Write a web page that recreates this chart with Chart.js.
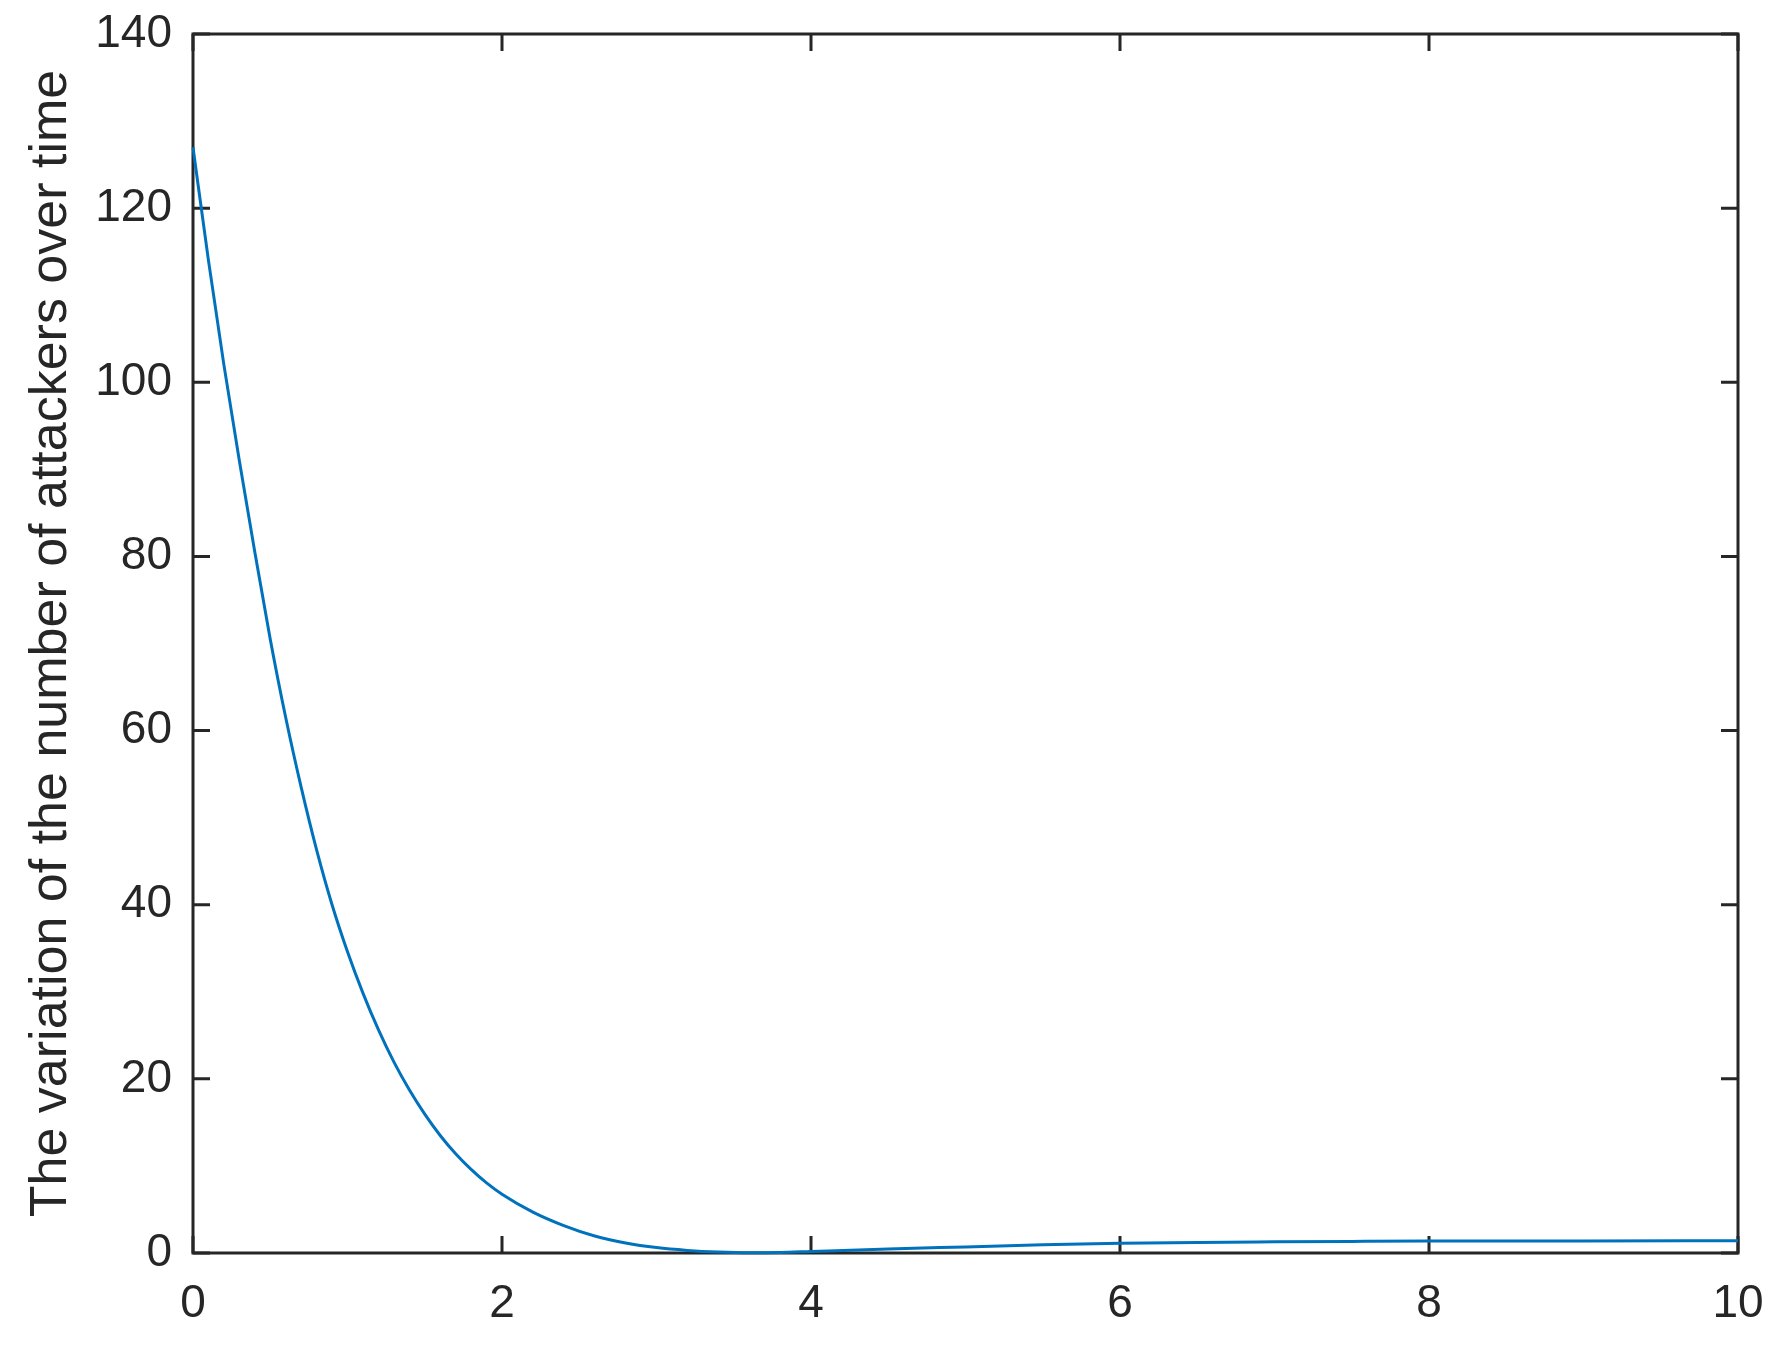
<!DOCTYPE html>
<html>
<head>
<meta charset="utf-8">
<title>Attackers over time</title>
<script src="https://cdn.jsdelivr.net/npm/chart.js@4/dist/chart.umd.min.js"></script>
<style>
  body { margin: 0; background: #ffffff; }
  #wrap { width: 1781px; height: 1348px; }
</style>
</head>
<body>
<div id="wrap"><canvas id="attackChart" width="1781" height="1348"></canvas></div>
<script>
// time values (x)
var times = [0, 0.1, 0.2, 0.3, 0.4, 0.5, 0.6, 0.7, 0.8, 0.9, 1.0, 1.1, 1.2, 1.3, 1.4, 1.5,
  1.6, 1.7, 1.8, 1.9, 2.0, 2.2, 2.4, 2.6, 2.8, 3.0, 3.2, 3.4, 3.6, 3.8, 4.0, 4.5, 5.0, 5.5, 6.0,
  6.5, 7.0, 7.5, 8.0, 9.0, 10];
// number of attackers at each time
var attackers = [127, 114, 102, 91, 80.5, 70.5, 61.5, 53.5, 46.3, 40, 34.6, 29.85, 25.65, 21.95, 18.75, 15.95,
  13.5, 11.4, 9.6, 8.05, 6.75, 4.7, 3.15, 1.95, 1.15, 0.62, 0.3, 0.11, 0.03, 0.07, 0.18, 0.45, 0.7, 0.95, 1.12,
  1.22, 1.28, 1.33, 1.37, 1.39, 1.4];
var xTicks = [0, 2, 4, 6, 8, 10];
var yTicks = [0, 20, 40, 60, 80, 100, 120, 140];

var axisColor = '#262626';
var fontFamily = '"Liberation Sans", Arial, Helvetica, sans-serif';

var points = times.map(function (t, i) {
  return { x: t, y: attackers[i] };
});

// MATLAB-like box with inward ticks on all four sides
var boxPlugin = {
  id: 'boxPlugin',
  beforeDatasetsDraw: function (chart) {
    var ctx = chart.ctx;
    var a = chart.chartArea;
    var xs = chart.scales.x;
    var ys = chart.scales.y;
    var tl = 17;
    ctx.save();
    ctx.strokeStyle = axisColor;
    ctx.lineWidth = 3;
    ctx.beginPath();
    xTicks.forEach(function (v) {
      var px = xs.getPixelForValue(v);
      ctx.moveTo(px, a.bottom);
      ctx.lineTo(px, a.bottom - tl);
      ctx.moveTo(px, a.top);
      ctx.lineTo(px, a.top + tl);
    });
    yTicks.forEach(function (v) {
      var py = ys.getPixelForValue(v);
      ctx.moveTo(a.left, py);
      ctx.lineTo(a.left + tl, py);
      ctx.moveTo(a.right, py);
      ctx.lineTo(a.right - tl, py);
    });
    ctx.stroke();
    ctx.strokeRect(a.left, a.top, a.right - a.left, a.bottom - a.top);
    ctx.restore();
  }
};

var ctx = document.getElementById('attackChart').getContext('2d');
var attackChart = new Chart(ctx, {
  type: 'line',
  data: {
    datasets: [{
      label: 'Attackers',
      data: points,
      borderColor: '#0072BD',
      borderWidth: 3,
      pointRadius: 0,
      fill: false,
      cubicInterpolationMode: 'monotone',
      clip: false
    }]
  },
  options: {
    responsive: false,
    animation: false,
    layout: { padding: { top: 34, right: 43, left: 0, bottom: 0 } },
    plugins: {
      legend: { display: false },
      tooltip: { enabled: false }
    },
    scales: {
      x: {
        type: 'linear',
        min: 0,
        max: 10,
        afterBuildTicks: function (scale) {
          scale.ticks = xTicks.map(function (v) { return { value: v }; });
        },
        afterFit: function (scale) {
          scale.height = 95;
          scale.paddingLeft = 0;
          scale.paddingRight = 0;
        },
        grid: { display: false, drawTicks: false },
        border: { display: false },
        ticks: {
          color: axisColor,
          font: { family: fontFamily, size: 46 },
          padding: 24,
          maxRotation: 0
        }
      },
      y: {
        type: 'linear',
        min: 0,
        max: 140,
        afterBuildTicks: function (scale) {
          scale.ticks = yTicks.map(function (v) { return { value: v }; });
        },
        afterFit: function (scale) {
          scale.width = 193;
          scale.paddingTop = 0;
          scale.paddingBottom = 0;
        },
        grid: { display: false, drawTicks: false },
        border: { display: false },
        ticks: {
          color: axisColor,
          font: { family: fontFamily, size: 46 },
          padding: 21
        },
        title: {
          display: true,
          text: 'The variation of the number of attackers over time',
          color: axisColor,
          font: { family: fontFamily, size: 52 },
          padding: { top: 20, bottom: 0 }
        }
      }
    }
  },
  plugins: [boxPlugin]
});
</script>
</body>
</html>
